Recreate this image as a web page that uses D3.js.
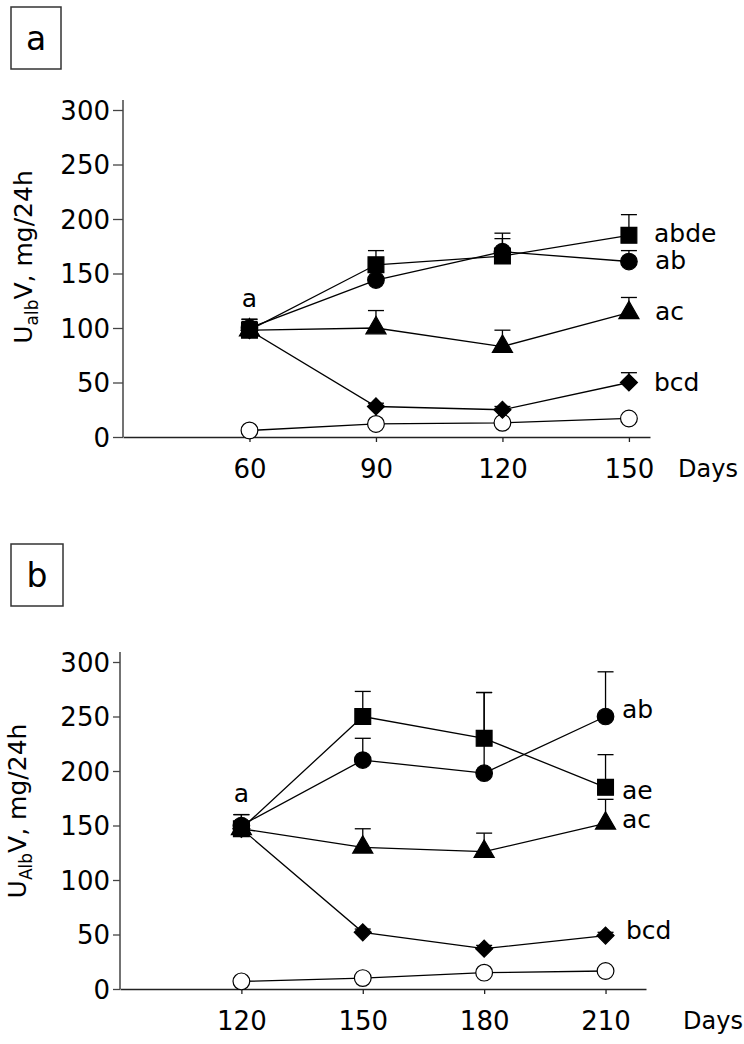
<!DOCTYPE html>
<html><head><meta charset="utf-8">
<script src="https://cdn.jsdelivr.net/npm/d3@7"></script>
<style>
body{margin:0;background:#fff;}
svg text{font-family:"DejaVu Sans",sans-serif;fill:#000;}
</style></head>
<body><svg id="c" width="744" height="1044"></svg>
<script>
// ---- data, panel a ----
const daysA = [60, 90, 120, 150];
const squareA = [98, 158, 166, 185];
const squareErrA = [10, 13, 21, 19];
const circleA = [100, 144, 170, 161];
const circleErrA = [8, 8, 12, 10];
const triangleA = [98, 100, 83, 114];
const triangleErrA = [8, 16, 15, 14];
const diamondA = [98, 28, 25, 50];
const diamondErrA = [3, 3, 3, 9];
const openA = [6, 12, 13, 17];
const labelsA = ["abde", "ab", "ac", "bcd"];
// ---- data, panel b ----
const daysB = [120, 150, 180, 210];
const squareB = [147, 250, 230, 185];
const squareErrB = [13, 23, 42, 30];
const circleB = [150, 210, 198, 250];
const circleErrB = [10, 20, 74, 41];
const triangleB = [147, 130, 126, 152];
const triangleErrB = [5, 17, 17, 22];
const diamondB = [147, 52, 37, 49];
const diamondErrB = [3, 3, 3, 3];
const openB = [7, 10, 15, 16.5];
const labelsB = ["ab", "ae", "ac", "bcd"];
const yTicks = [0, 50, 100, 150, 200, 250, 300];

const svg = d3.select("#c");

function panel(o) {
  const g = svg.append("g");
  const x = d3.scaleLinear().domain(o.xDomain).range(o.xRange);
  const y = d3.scaleLinear().domain([0, 300]).range(o.yRange);
  // panel letter box
  g.append("rect").attr("x", o.box[0]).attr("y", o.box[1]).attr("width", o.box[2]).attr("height", o.box[3])
    .attr("fill", "none").attr("stroke", "#333").attr("stroke-width", 1.5);
  g.append("text").attr("x", o.box[0] + o.box[2] / 2).attr("y", o.box[1] + o.box[3] / 2 + 12)
    .attr("text-anchor", "middle").attr("font-size", 33).text(o.letter);

  // y axis
  const ya = g.append("g").attr("transform", `translate(${o.xRange[0]},0)`)
    .call(d3.axisLeft(y).tickValues(yTicks).tickSize(o.yTick).tickPadding(o.yPad).tickSizeOuter(0));
  ya.select(".domain").attr("d", `M0,${y(0)}V${y(300) - 10}`).attr("stroke", "#444").attr("stroke-width", 1.5);
  ya.selectAll(".tick line").attr("stroke", "#444").attr("stroke-width", 1.3);
  ya.selectAll(".tick text").attr("font-size", 26).attr("font-family", "DejaVu Sans").attr("dy", "0.36em");

  // x axis
  const xa = g.append("g").attr("transform", `translate(0,${y(0)})`)
    .call(d3.axisBottom(x).tickValues(o.days).tickSize(5).tickSizeOuter(0));
  xa.select(".domain").attr("stroke", "#222").attr("stroke-width", 1.5);
  xa.selectAll(".tick line").attr("stroke", "#222").attr("stroke-width", 1.3);
  xa.selectAll(".tick text").attr("font-size", 26).attr("font-family", "DejaVu Sans").attr("y", 41).attr("dy", 0);
  g.append("text").attr("x", o.daysX).attr("y", y(0) + 40).attr("font-size", 24).text("Days");

  // y label
  const yl = g.append("text").attr("transform", `translate(${o.ylx},${o.yly}) rotate(-90)`)
    .attr("text-anchor", "middle").attr("font-size", 25);
  yl.append("tspan").text("U");
  yl.append("tspan").attr("font-size", 17).attr("dy", 6).text(o.sub);
  yl.append("tspan").attr("dy", -6).text("V, mg/24h");

  const line = d3.line().x((d, i) => x(o.days[i])).y(d => y(d));

  function series(vals, errs, shape, fill) {
    const sg = g.append("g");
    sg.append("path").attr("d", line(vals)).attr("fill", "none").attr("stroke", "#000").attr("stroke-width", 1.3);
    if (errs) {
      vals.forEach((v, i) => {
        const cx = x(o.days[i]);
        sg.append("line").attr("x1", cx).attr("x2", cx).attr("y1", y(v)).attr("y2", y(v + errs[i]))
          .attr("stroke", "#000").attr("stroke-width", 1.3);
        sg.append("line").attr("x1", cx - 8).attr("x2", cx + 8).attr("y1", y(v + errs[i])).attr("y2", y(v + errs[i]))
          .attr("stroke", "#000").attr("stroke-width", 1.3);
      });
    }
    const sym = d3.symbol().type(shape.type).size(shape.size);
    vals.forEach((v, i) => {
      sg.append("path").attr("d", sym())
        .attr("transform", `translate(${x(o.days[i])},${y(v)})${shape.rot ? " rotate(45)" : ""}`)
        .attr("fill", fill).attr("stroke", "#000").attr("stroke-width", 1.2);
    });
  }
  series(o.open, null, {type: d3.symbolCircle, size: 220}, "#fff");
  series(o.diamond, o.diamondErr, {type: d3.symbolSquare, size: 145, rot: true}, "#000");
  series(o.triangle, o.triangleErr, {type: d3.symbolTriangle, size: 175}, "#000");
  series(o.circle, o.circleErr, {type: d3.symbolCircle, size: 215}, "#000");
  series(o.square, o.squareErr, {type: d3.symbolSquare, size: 250}, "#000");

  // significance labels
  o.labels.forEach((t, i) => {
    g.append("text").attr("x", o.labX[i]).attr("y", y(o.labY[i])).attr("dy", "0.35em")
      .attr("font-size", 25).text(t);
  });
  g.append("text").attr("x", x(o.days[0])).attr("y", y(o.aY)).attr("dy", "0.35em")
    .attr("text-anchor", "middle").attr("font-size", 25).text("a");
}

panel({
  letter: "a", box: [11, 7, 50, 62],
  xDomain: [30, 155], xRange: [123, 650], yRange: [437, 110], yTick: 10, yPad: 3,
  days: daysA, daysX: 678, ylx: 32, yly: 257, sub: "alb",
  square: squareA, squareErr: squareErrA, circle: circleA, circleErr: circleErrA,
  triangle: triangleA, triangleErr: triangleErrA, diamond: diamondA, diamondErr: diamondErrA,
  open: openA, labels: labelsA, labX: [654, 655, 655, 654], labY: [187, 162, 115, 50], aY: 127
});
panel({
  letter: "b", box: [11, 544, 52, 62],
  xDomain: [90, 220], xRange: [120, 646], yRange: [989, 662], yTick: 7, yPad: 3,
  days: daysB, daysX: 683, ylx: 26, yly: 811, sub: "Alb",
  square: squareB, squareErr: squareErrB, circle: circleB, circleErr: circleErrB,
  triangle: triangleB, triangleErr: triangleErrB, diamond: diamondB, diamondErr: diamondErrB,
  open: openB, labels: labelsB, labX: [622, 622, 622, 626], labY: [257, 182, 156, 54], aY: 180
});
</script></body></html>
